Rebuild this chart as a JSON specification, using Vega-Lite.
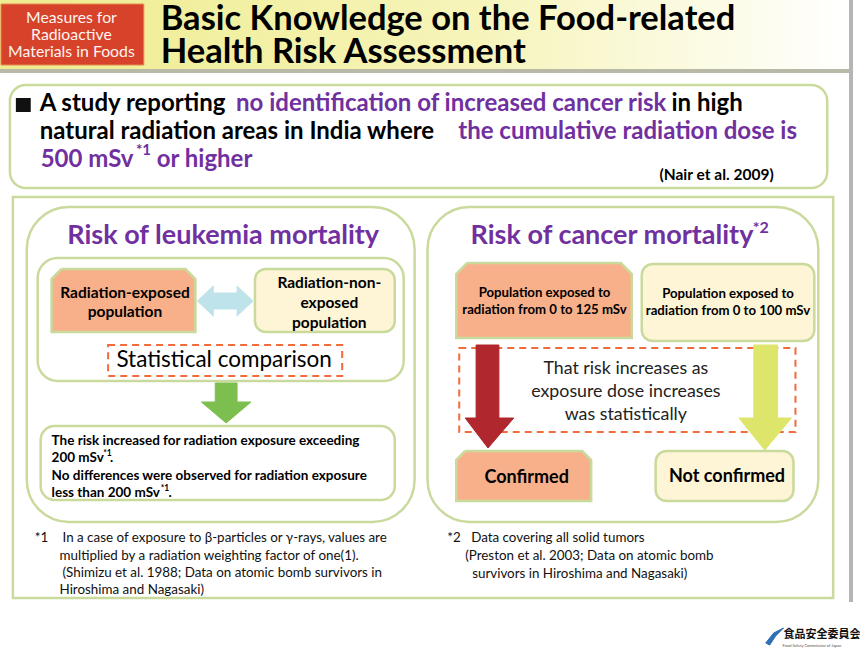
{
  "$schema": "https://vega.github.io/schema/vega-lite/v6.json",
  "width": 860,
  "height": 652,
  "autosize": {"type": "fit", "contains": "padding"},
  "padding": 0,
  "background": "white",
  "config": {"view": {"stroke": null}},
  "encoding": {
    "x": {"field": "x", "type": "quantitative", "scale": {"domain": [0, 860], "nice": false, "zero": false}, "axis": null},
    "y": {"field": "y", "type": "quantitative", "scale": {"domain": [0, 652], "nice": false, "zero": false, "reverse": true}, "axis": null}
  },
  "layer": [
    {
      "data": {"values": [{"x": 0, "x2": 856, "y": 0, "y2": 69}]},
      "mark": {"type": "rect", "fill": {"gradient": "linear", "x1": 0, "y1": 0, "x2": 1, "y2": 0, "stops": [{"offset": 0, "color": "#eeec8e"}, {"offset": 0.55, "color": "#f6f4b8"}, {"offset": 1, "color": "#ffffff"}]}},
      "encoding": {"x2": {"field": "x2"}, "y2": {"field": "y2"}}
    },
    {
      "data": {"values": [{"x": 0, "x2": 856, "y": 69, "y2": 73}]},
      "mark": {"type": "rect", "fill": "#b9b9a8"},
      "encoding": {"x2": {"field": "x2"}, "y2": {"field": "y2"}}
    },
    {
      "data": {"values": [{"x": 856, "x2": 860, "y": 0, "y2": 602}]},
      "mark": {"type": "rect", "fill": "#b5b5b5"},
      "encoding": {"x2": {"field": "x2"}, "y2": {"field": "y2"}}
    },
    {
      "data": {"values": [{"x": 1, "x2": 145, "y": 4, "y2": 65}]},
      "mark": {"type": "rect", "fill": "#d6422a", "stroke": "#e8884e", "strokeWidth": 1},
      "encoding": {"x2": {"field": "x2"}, "y2": {"field": "y2"}}
    },
    {
      "data": {"values": [{"x": 13, "x2": 840, "y": 197, "y2": 598}]},
      "mark": {"type": "rect", "fill": "white", "stroke": "#c9da9c", "strokeWidth": 2.5},
      "encoding": {"x2": {"field": "x2"}, "y2": {"field": "y2"}}
    },
    {
      "data": {"values": [{"x": 10, "x2": 834, "y": 85, "y2": 188}]},
      "mark": {"type": "rect", "fill": "white", "stroke": "#c9da9c", "strokeWidth": 2.5, "cornerRadius": 16},
      "encoding": {"x2": {"field": "x2"}, "y2": {"field": "y2"}}
    },
    {
      "data": {"values": [{"x": 16, "x2": 31, "y": 98, "y2": 112}]},
      "mark": {"type": "rect", "fill": "#111111"},
      "encoding": {"x2": {"field": "x2"}, "y2": {"field": "y2"}}
    },
    {
      "data": {"values": [{"x": 27, "x2": 418, "y": 207, "y2": 522}, {"x": 431, "x2": 825, "y": 207, "y2": 522}]},
      "mark": {"type": "rect", "fill": "white", "stroke": "#c9da9c", "strokeWidth": 2.5, "cornerRadius": 42},
      "encoding": {"x2": {"field": "x2"}, "y2": {"field": "y2"}}
    },
    {
      "data": {"values": [{"x": 38, "x2": 407, "y": 258, "y2": 381}]},
      "mark": {"type": "rect", "fill": "white", "stroke": "#c9da9c", "strokeWidth": 2.5, "cornerRadius": 20},
      "encoding": {"x2": {"field": "x2"}, "y2": {"field": "y2"}}
    },
    {
      "data": {"values": [{"x": 41, "x2": 398, "y": 426, "y2": 500}]},
      "mark": {"type": "rect", "fill": "white", "stroke": "#c9da9c", "strokeWidth": 2.5, "cornerRadius": 14},
      "encoding": {"x2": {"field": "x2"}, "y2": {"field": "y2"}}
    },
    {
      "data": {"values": [{"x": 257, "x2": 398, "y": 269, "y2": 332}, {"x": 647, "x2": 821, "y": 264, "y2": 341}, {"x": 661, "x2": 800, "y": 451, "y2": 501}]},
      "mark": {"type": "rect", "fill": "#fdf5d6", "stroke": "#c9da9c", "strokeWidth": 2.5, "cornerRadius": 11},
      "encoding": {"x2": {"field": "x2"}, "y2": {"field": "y2"}}
    },
    {
      "data": {"values": [
        {"s": "a", "o": 1, "x": 62, "y": 269}, {"s": "a", "o": 2, "x": 187, "y": 269}, {"s": "a", "o": 3, "x": 197, "y": 279}, {"s": "a", "o": 4, "x": 197, "y": 332}, {"s": "a", "o": 5, "x": 52, "y": 332}, {"s": "a", "o": 6, "x": 52, "y": 279}, {"s": "a", "o": 7, "x": 62, "y": 269},
        {"s": "b", "o": 1, "x": 471, "y": 263}, {"s": "b", "o": 2, "x": 626, "y": 263}, {"s": "b", "o": 3, "x": 637, "y": 274}, {"s": "b", "o": 4, "x": 637, "y": 338}, {"s": "b", "o": 5, "x": 460, "y": 338}, {"s": "b", "o": 6, "x": 460, "y": 274}, {"s": "b", "o": 7, "x": 471, "y": 263},
        {"s": "c", "o": 1, "x": 469, "y": 451}, {"s": "c", "o": 2, "x": 587, "y": 451}, {"s": "c", "o": 3, "x": 596, "y": 460}, {"s": "c", "o": 4, "x": 596, "y": 501}, {"s": "c", "o": 5, "x": 460, "y": 501}, {"s": "c", "o": 6, "x": 460, "y": 460}, {"s": "c", "o": 7, "x": 469, "y": 451}
      ]},
      "mark": {"type": "line", "fill": "#f8b08b", "stroke": "#c9da9c", "strokeWidth": 2.5},
      "encoding": {"detail": {"field": "s"}, "order": {"field": "o", "type": "quantitative"}}
    },
    {
      "data": {"values": [
        {"s": "d", "o": 1, "x": 199, "y": 301}, {"s": "d", "o": 2, "x": 215, "y": 286}, {"s": "d", "o": 3, "x": 215, "y": 293}, {"s": "d", "o": 4, "x": 239, "y": 293}, {"s": "d", "o": 5, "x": 239, "y": 286}, {"s": "d", "o": 6, "x": 255, "y": 301}, {"s": "d", "o": 7, "x": 239, "y": 316}, {"s": "d", "o": 8, "x": 239, "y": 309}, {"s": "d", "o": 9, "x": 215, "y": 309}, {"s": "d", "o": 10, "x": 215, "y": 316}, {"s": "d", "o": 11, "x": 199, "y": 301}
      ]},
      "mark": {"type": "line", "fill": "#bfe3ea", "stroke": "#bfe3ea", "strokeWidth": 1},
      "encoding": {"detail": {"field": "s"}, "order": {"field": "o", "type": "quantitative"}}
    },
    {
      "data": {"values": [
        {"s": "g", "o": 1, "x": 217, "y": 383}, {"s": "g", "o": 2, "x": 239, "y": 383}, {"s": "g", "o": 3, "x": 239, "y": 402}, {"s": "g", "o": 4, "x": 253, "y": 402}, {"s": "g", "o": 5, "x": 228, "y": 423}, {"s": "g", "o": 6, "x": 203, "y": 402}, {"s": "g", "o": 7, "x": 217, "y": 402}, {"s": "g", "o": 8, "x": 217, "y": 383}
      ]},
      "mark": {"type": "line", "fill": "#7dbf4e", "stroke": "#7dbf4e", "strokeWidth": 1},
      "encoding": {"detail": {"field": "s"}, "order": {"field": "o", "type": "quantitative"}}
    },
    {
      "data": {"values": [{"x": 463, "x2": 802, "y": 348, "y2": 432}, {"x": 109, "x2": 345, "y": 345, "y2": 376}]},
      "mark": {"type": "rect", "fill": null, "stroke": "#f26b3a", "strokeWidth": 2, "strokeDash": [7, 5]},
      "encoding": {"x2": {"field": "x2"}, "y2": {"field": "y2"}}
    },
    {
      "data": {"values": [
        {"s": "r", "o": 1, "x": 480, "y": 345}, {"s": "r", "o": 2, "x": 503, "y": 345}, {"s": "r", "o": 3, "x": 503, "y": 418}, {"s": "r", "o": 4, "x": 518, "y": 418}, {"s": "r", "o": 5, "x": 492, "y": 448}, {"s": "r", "o": 6, "x": 469, "y": 418}, {"s": "r", "o": 7, "x": 480, "y": 418}, {"s": "r", "o": 8, "x": 480, "y": 345}
      ]},
      "mark": {"type": "line", "fill": "#b0272d", "stroke": "#b0272d", "strokeWidth": 1},
      "encoding": {"detail": {"field": "s"}, "order": {"field": "o", "type": "quantitative"}}
    },
    {
      "data": {"values": [
        {"s": "y", "o": 1, "x": 760, "y": 345}, {"s": "y", "o": 2, "x": 784, "y": 345}, {"s": "y", "o": 3, "x": 784, "y": 418}, {"s": "y", "o": 4, "x": 798, "y": 418}, {"s": "y", "o": 5, "x": 771, "y": 450}, {"s": "y", "o": 6, "x": 745, "y": 418}, {"s": "y", "o": 7, "x": 760, "y": 418}, {"s": "y", "o": 8, "x": 760, "y": 345}
      ]},
      "mark": {"type": "line", "fill": "#dde66a", "stroke": "#dde66a", "strokeWidth": 1},
      "encoding": {"detail": {"field": "s"}, "order": {"field": "o", "type": "quantitative"}}
    },
    {
      "data": {"values": [{"x": 72, "y": 18, "t": "Measures for"}, {"x": 72, "y": 35, "t": "Radioactive"}, {"x": 72, "y": 52, "t": "Materials in Foods"}]},
      "mark": {"type": "text", "font": "Lato", "fontSize": 15.8, "fontWeight": "normal", "color": "#fff4f0", "align": "center", "baseline": "middle"},
      "encoding": {"text": {"field": "t"}}
    },
    {
      "data": {"values": [{"x": 162, "y": 30, "t": "Basic Knowledge on the Food-related"}, {"x": 162, "y": 63, "t": "Health Risk Assessment"}]},
      "mark": {"type": "text", "font": "Lato", "fontSize": 34.5, "fontWeight": "bold", "color": "black", "align": "left", "baseline": "alphabetic"},
      "encoding": {"text": {"field": "t"}}
    },
    {
      "data": {"values": [{"x": 40, "y": 104, "t": "A study reporting"}, {"x": 677, "y": 104, "t": "in high"}, {"x": 40, "y": 132, "t": "natural radiation areas in India where"}]},
      "mark": {"type": "text", "font": "Lato", "fontSize": 24, "fontWeight": "bold", "color": "black", "align": "left", "baseline": "middle"},
      "encoding": {"text": {"field": "t"}}
    },
    {
      "data": {"values": [{"x": 238, "y": 104, "t": "no identification of increased cancer risk"}, {"x": 462, "y": 132, "t": "the cumulative radiation dose is"}, {"x": 41, "y": 160, "t": "500 mSv"}, {"x": 158, "y": 160, "t": "or higher"}]},
      "mark": {"type": "text", "font": "Lato", "fontSize": 24, "fontWeight": "bold", "color": "#7030a0", "align": "left", "baseline": "middle"},
      "encoding": {"text": {"field": "t"}}
    },
    {
      "data": {"values": [{"x": 137, "y": 150, "t": "*1"}]},
      "mark": {"type": "text", "font": "Lato", "fontSize": 15, "fontWeight": "bold", "color": "#7030a0", "align": "left", "baseline": "middle"},
      "encoding": {"text": {"field": "t"}}
    },
    {
      "data": {"values": [{"x": 780, "y": 175, "t": "(Nair et al. 2009)"}]},
      "mark": {"type": "text", "font": "Lato", "fontSize": 15.5, "fontWeight": "bold", "color": "black", "align": "right", "baseline": "middle"},
      "encoding": {"text": {"field": "t"}}
    },
    {
      "data": {"values": [{"x": 225, "y": 236, "t": "Risk of leukemia mortality"}, {"x": 617, "y": 236, "t": "Risk of cancer mortality"}]},
      "mark": {"type": "text", "font": "Lato", "fontSize": 27, "fontWeight": "bold", "color": "#7030a0", "align": "center", "baseline": "middle"},
      "encoding": {"text": {"field": "t"}}
    },
    {
      "data": {"values": [{"x": 759, "y": 228, "t": "*2"}]},
      "mark": {"type": "text", "font": "Lato", "fontSize": 16, "fontWeight": "bold", "color": "#7030a0", "align": "left", "baseline": "middle"},
      "encoding": {"text": {"field": "t"}}
    },
    {
      "data": {"values": [{"x": 126, "y": 293, "t": "Radiation-exposed"}, {"x": 126, "y": 312, "t": "population"}, {"x": 332, "y": 283, "t": "Radiation-non-"}, {"x": 332, "y": 303, "t": "exposed"}, {"x": 332, "y": 323, "t": "population"}]},
      "mark": {"type": "text", "font": "Lato", "fontSize": 15.5, "fontWeight": "bold", "color": "black", "align": "center", "baseline": "middle"},
      "encoding": {"text": {"field": "t"}}
    },
    {
      "data": {"values": [{"x": 549, "y": 293, "t": "Population exposed to"}, {"x": 549, "y": 310, "t": "radiation from 0 to 125 mSv"}, {"x": 734, "y": 294, "t": "Population exposed to"}, {"x": 734, "y": 311, "t": "radiation from 0 to 100 mSv"}]},
      "mark": {"type": "text", "font": "Lato", "fontSize": 13.2, "fontWeight": "bold", "color": "black", "align": "center", "baseline": "middle"},
      "encoding": {"text": {"field": "t"}}
    },
    {
      "data": {"values": [{"x": 226, "y": 360, "t": "Statistical comparison"}]},
      "mark": {"type": "text", "font": "Lato", "fontSize": 22.5, "fontWeight": "normal", "color": "black", "align": "center", "baseline": "middle"},
      "encoding": {"text": {"field": "t"}}
    },
    {
      "data": {"values": [{"x": 631, "y": 369, "t": "That risk increases as"}, {"x": 631, "y": 392, "t": "exposure dose increases"}, {"x": 631, "y": 415, "t": "was statistically"}]},
      "mark": {"type": "text", "font": "Lato", "fontSize": 17.8, "fontWeight": "normal", "color": "#222222", "align": "center", "baseline": "middle"},
      "encoding": {"text": {"field": "t"}}
    },
    {
      "data": {"values": [{"x": 531, "y": 478, "t": "Confirmed"}, {"x": 733, "y": 477, "t": "Not confirmed"}]},
      "mark": {"type": "text", "font": "Lato", "fontSize": 18, "fontWeight": "bold", "color": "black", "align": "center", "baseline": "middle"},
      "encoding": {"text": {"field": "t"}}
    },
    {
      "data": {"values": [{"x": 52, "y": 441, "t": "The risk increased for radiation exposure exceeding"}, {"x": 52, "y": 458, "t": "200 mSv"}, {"x": 111, "y": 458, "t": "."}, {"x": 52, "y": 476, "t": "No differences were observed for radiation exposure"}, {"x": 52, "y": 493, "t": "less than 200 mSv"}, {"x": 170, "y": 493, "t": "."}]},
      "mark": {"type": "text", "font": "Lato", "fontSize": 13.5, "fontWeight": "bold", "color": "black", "align": "left", "baseline": "middle"},
      "encoding": {"text": {"field": "t"}}
    },
    {
      "data": {"values": [{"x": 104, "y": 453, "t": "*1"}, {"x": 162, "y": 488, "t": "*1"}]},
      "mark": {"type": "text", "font": "Lato", "fontSize": 8.5, "fontWeight": "bold", "color": "black", "align": "left", "baseline": "middle"},
      "encoding": {"text": {"field": "t"}}
    },
    {
      "data": {"values": [
        {"x": 35, "y": 538, "t": "*1"}, {"x": 63, "y": 538, "t": "In a case of exposure to β-particles or γ-rays, values are"}, {"x": 60, "y": 556, "t": "multiplied by a radiation weighting factor of one(1)."}, {"x": 63, "y": 573, "t": "(Shimizu et al. 1988; Data on atomic bomb survivors in"}, {"x": 60, "y": 590, "t": "Hiroshima and Nagasaki)"},
        {"x": 451, "y": 538, "t": "*2"}, {"x": 475, "y": 538, "t": "Data covering all solid tumors"}, {"x": 469, "y": 556, "t": "(Preston et al. 2003; Data on atomic bomb"}, {"x": 476, "y": 574, "t": "survivors in Hiroshima and Nagasaki)"}
      ]},
      "mark": {"type": "text", "font": "Lato", "fontSize": 13.4, "fontWeight": "normal", "color": "#111111", "align": "left", "baseline": "middle"},
      "encoding": {"text": {"field": "t"}}
    },
    {
      "data": {"values": [
        {"s": "l", "o": 1, "x": 772, "y": 643}, {"s": "l", "o": 2, "x": 780, "y": 633}, {"s": "l", "o": 3, "x": 790, "y": 628}, {"s": "l", "o": 4, "x": 782, "y": 636}, {"s": "l", "o": 5, "x": 776, "y": 645}, {"s": "l", "o": 6, "x": 772, "y": 643}
      ]},
      "mark": {"type": "line", "fill": "#2f6fb3", "stroke": "#2f6fb3", "strokeWidth": 1},
      "encoding": {"detail": {"field": "s"}, "order": {"field": "o", "type": "quantitative"}}
    },
    {
      "data": {"values": [{"x": 790, "y": 635, "t": "食品安全委員会"}]},
      "mark": {"type": "text", "font": "Noto Sans CJK JP", "fontSize": 11, "fontWeight": "bold", "color": "#111111", "align": "left", "baseline": "middle"},
      "encoding": {"text": {"field": "t"}}
    },
    {
      "data": {"values": [{"x": 789, "y": 646, "t": "Food Safety Commission of Japan"}]},
      "mark": {"type": "text", "font": "Lato", "fontSize": 4, "color": "#555555", "align": "left", "baseline": "middle"},
      "encoding": {"text": {"field": "t"}}
    }
  ]
}
